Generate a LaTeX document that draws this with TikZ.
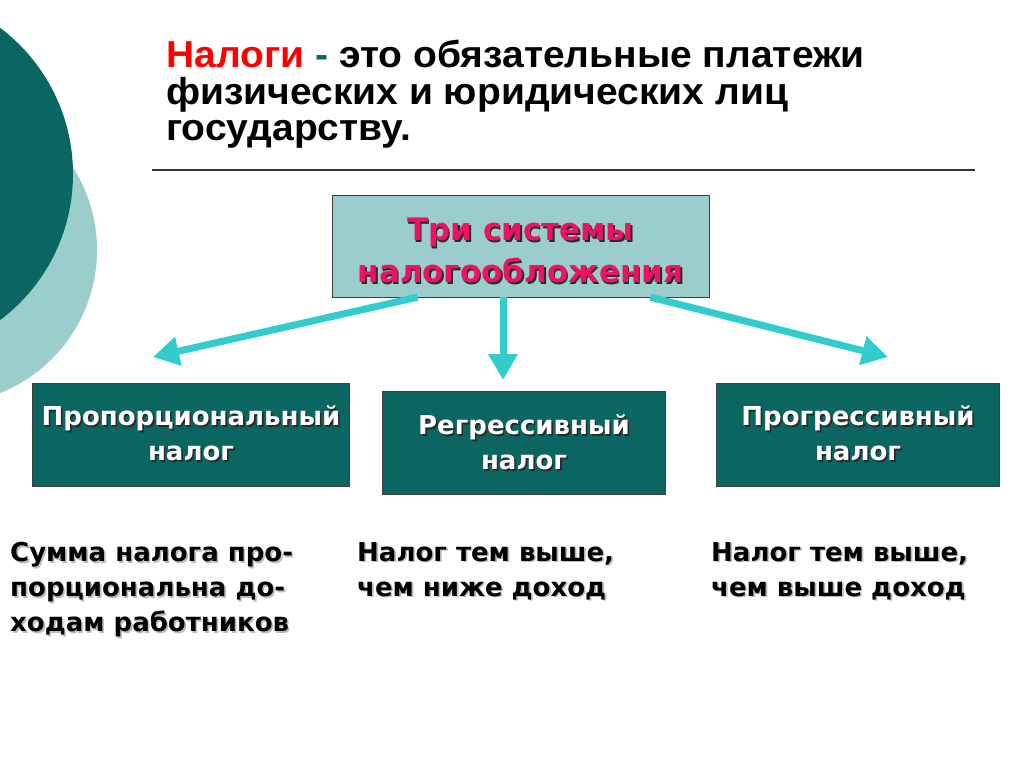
\documentclass[tikz,border=0pt]{standalone}
\usepackage{fontspec}
\setmainfont{DejaVu Sans}
\newfontfamily\titlefont[FakeStretch=1.04]{Liberation Sans}
\usetikzlibrary{arrows.meta,positioning}

\definecolor{darkteal}{HTML}{0B6662}
\definecolor{paleteal}{HTML}{9CCDCD}
\definecolor{arrowcyan}{HTML}{33CCCC}
\definecolor{pinkred}{HTML}{EC1264}
\definecolor{shadowcol}{HTML}{2A2A2A}
\definecolor{lightshadow}{HTML}{BBBBBB}

% text with a small drop shadow
\newcommand\shadowed[2][shadowcol]{\rlap{\kern1.6pt\raisebox{-1.6pt}{\color{#1}#2}}#2}

\tikzset{
  taxbox/.style={draw=black!75, fill=darkteal, text=white, minimum height=103,
    inner sep=0, align=center, font=\bfseries\fontsize{26}{35}\selectfont},
  sysbox/.style={draw=black!75, fill=paleteal, text=pinkred, minimum width=377,
    minimum height=102, inner sep=0, align=center, font=\bfseries\fontsize{31}{42}\selectfont},
  note/.style={anchor=north west, inner sep=0, align=left,
    font=\bfseries\fontsize{26}{35}\selectfont},
  fatarrow/.style={arrowcyan, line width=7,
    -{Triangle[width=28,length=26]}}
}

\begin{document}
\begin{tikzpicture}[x=1pt,y=-1pt]
\useasboundingbox[fill=white] (0,0) rectangle (1024,767);

% circles on the left edge
\begin{scope}
  \clip (0,0) rectangle (1024,767);
  \fill[paleteal] (-57,250) circle[radius=154];
  \fill[darkteal] (-110,174) circle[radius=183];
\end{scope}

% definition
\node[anchor=north west, inner sep=0, align=left,
  font=\titlefont\bfseries\fontsize{37.5}{36.5}\selectfont] (title) at (166,40)
  {{\color{red}Налоги} {\color{darkteal}-} это обязательные платежи\\
   физических и юридических лиц\\
   государству.};
\draw[black!80, line width=1.2] (152,170) -- (975,170);

% boxes
\node[sysbox] (sys) at (520.5,246)
  {\rule{0pt}{34pt}\shadowed{Три системы}\\\shadowed{налогообложения}};
\node[taxbox, minimum width=317] (prop) at (191,434.5)
  {\shadowed{Пропорциональный}\\\shadowed{налог}};
\node[taxbox, minimum width=283] (regr) at (524,443)
  {\shadowed{Регрессивный}\\\shadowed{налог}};
\node[taxbox, minimum width=283] (progr) at (858,434.5)
  {\shadowed{Прогрессивный}\\\shadowed{налог}};

% arrows
\coordinate (propend) at (153,357);
\coordinate (regrend) at (503,380);
\coordinate (progrend) at (888,357);
\draw[fatarrow] ([xshift=-103]sys.south) -- (propend);
\draw[fatarrow] ([xshift=-17.5]sys.south) -- (regrend);
\draw[fatarrow] ([xshift=130]sys.south) -- (progrend);

% explanations
\node[note] (propnote) at (10,542)
  {\shadowed[lightshadow]{Сумма налога про-}\\
   \shadowed[lightshadow]{порциональна до-}\\
   \shadowed[lightshadow]{ходам работников}};
\node[note] (regrnote) at (357,542)
  {\shadowed[lightshadow]{Налог тем выше,}\\
   \shadowed[lightshadow]{чем ниже доход}};
\node[note] (progrnote) at (711,542)
  {\shadowed[lightshadow]{Налог тем выше,}\\
   \shadowed[lightshadow]{чем выше доход}};
\end{tikzpicture}
\end{document}
